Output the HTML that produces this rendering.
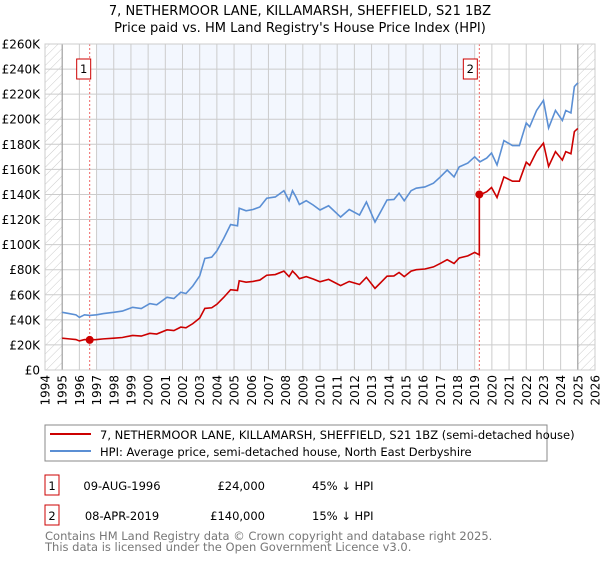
<!DOCTYPE html>
<html><head><meta charset="utf-8"><style>
body{margin:0;background:#fff;font-family:"DejaVu Sans","Liberation Sans",sans-serif;}
svg text{font-family:"DejaVu Sans","Liberation Sans",sans-serif;}
</style></head><body>
<svg id="c" width="600" height="560" xmlns="http://www.w3.org/2000/svg">
<defs><pattern id="hatch" width="6" height="6" patternUnits="userSpaceOnUse" patternTransform="rotate(45)"><line x1="0" y1="0" x2="0" y2="6" stroke="#ccc" stroke-width="1"/></pattern></defs>
<text x="300" y="15" text-anchor="middle" font-size="13">7, NETHERMOOR LANE, KILLAMARSH, SHEFFIELD, S21 1BZ</text>
<text x="300" y="32" text-anchor="middle" font-size="13">Price paid vs. HM Land Registry's House Price Index (HPI)</text>
<g id="plot"></g>
<rect x="45" y="425" width="502" height="36" fill="#fff" stroke="#888"/>
<line x1="50" y1="434" x2="91" y2="434" stroke="#cc0000" stroke-width="2"/>
<text x="100" y="439" font-size="11.5">7, NETHERMOOR LANE, KILLAMARSH, SHEFFIELD, S21 1BZ (semi-detached house)</text>
<line x1="50" y1="451" x2="91" y2="451" stroke="#5b8fd4" stroke-width="2"/>
<text x="100" y="456" font-size="11.5">HPI: Average price, semi-detached house, North East Derbyshire</text>
<g>
<rect x="45" y="475" width="14" height="20" fill="#fff" stroke="#cc0000"/>
<text x="52" y="490" text-anchor="middle" font-size="11.5">1</text>
<text x="122" y="490" text-anchor="middle" font-size="11.5">09-AUG-1996</text>
<text x="265" y="490" text-anchor="end" font-size="11.5">£24,000</text>
<text x="312" y="490" font-size="11.5">45% ↓ HPI</text></g>
<g>
<rect x="45" y="505" width="14" height="20" fill="#fff" stroke="#cc0000"/>
<text x="52" y="520" text-anchor="middle" font-size="11.5">2</text>
<text x="122" y="520" text-anchor="middle" font-size="11.5">08-APR-2019</text>
<text x="265" y="520" text-anchor="end" font-size="11.5">£140,000</text>
<text x="312" y="520" font-size="11.5">15% ↓ HPI</text></g>
<text x="45" y="540" font-size="11.5" fill="#777">Contains HM Land Registry data © Crown copyright and database right 2025.</text>
<text x="45" y="551" font-size="11.5" fill="#777">This data is licensed under the Open Government Licence v3.0.</text>
</svg>
<script>
const hpiYears=[1995.0,1995.4,1995.8,1996.0,1996.3,1996.6,1997.0,1997.4,1998.0,1998.5,1999.1,1999.6,2000.1,2000.5,2001.1,2001.5,2001.9,2002.2,2002.6,2003.0,2003.3,2003.7,2004.0,2004.4,2004.8,2005.2,2005.3,2005.7,2006.1,2006.5,2006.9,2007.4,2007.9,2008.2,2008.4,2008.6,2008.8,2009.2,2009.6,2010.0,2010.5,2011.2,2011.7,2012.3,2012.7,2013.2,2013.6,2013.9,2014.3,2014.6,2014.9,2015.3,2015.6,2016.1,2016.6,2017.0,2017.4,2017.8,2018.1,2018.6,2019.0,2019.3,2019.7,2019.98,2020.3,2020.7,2021.2,2021.6,2022.0,2022.2,2022.6,2023.0,2023.3,2023.7,2024.1,2024.3,2024.6,2024.8,2025.0];
const hpiValues=[46,45,44,42,44,43.5,44,45,46,47,50,49,53,52,58,57,62,61,67,75,89,90,95,105,116,115,129,127,128,130,137,138,143,135,143,138,132,135,131.6,127.6,131,122,128,123.6,134,118,128,135.6,136,141,135,143,145,146,149,154,159.5,154,162,165,170,166,169,173,163.5,183,179,179,197,194,207,215,193,207,199,207,205,226,229];
const saleDates=[1996.6,2019.27];
const salePrices=[24,140];
const yTicks=[0,20,40,60,80,100,120,140,160,180,200,220,240,260];
const xTicks=[1994,1995,1996,1997,1998,1999,2000,2001,2002,2003,2004,2005,2006,2007,2008,2009,2010,2011,2012,2013,2014,2015,2016,2017,2018,2019,2020,2021,2022,2023,2024,2025,2026];
const X0=45,X1=595,Y0=370,Y1=44;
const xs=y=>X0+(y-1994)/32*(X1-X0);
const ys=v=>Y0-v/260*(Y0-Y1);
const NS='http://www.w3.org/2000/svg';
const g=document.getElementById('plot');
function mk(t,a,p){const e=document.createElementNS(NS,t);for(const k in a)e.setAttribute(k,a[k]);(p||g).appendChild(e);return e;}
function hpiAt(t){for(let i=1;i<hpiYears.length;i++){if(hpiYears[i]>=t){const f=(t-hpiYears[i-1])/(hpiYears[i]-hpiYears[i-1]);return hpiValues[i-1]+f*(hpiValues[i]-hpiValues[i-1]);}}return hpiValues[hpiValues.length-1];}
let e;
e=mk('rect',{x:X0,y:Y1,width:X1-X0,height:Y0-Y1,fill:'#fff'});
e=mk('rect',{x:xs(1997),y:Y1,width:xs(2019)-xs(1997),height:Y0-Y1,fill:'#f3f7fe'});


e=mk('rect',{x:X0,y:Y1,width:xs(1995)-X0,height:Y0-Y1,fill:'url(#hatch)'});


e=mk('rect',{x:xs(2025),y:Y1,width:X1-xs(2025),height:Y0-Y1,fill:'url(#hatch)'});


xTicks.forEach(t=>{e=mk('line',{x1:xs(t),x2:xs(t),y1:Y1,y2:Y0,stroke:'#ccc'});


const wrap=mk('g',{});
wrap.setAttribute('transform','translate('+(xs(t)+4.5)+',375) rotate(-90)');
e=mk('text',{x:0,y:0,'font-size':12,'text-anchor':'end'},wrap);e.textContent=t;

});
yTicks.forEach(t=>{e=mk('line',{x1:X0,x2:X1,y1:ys(t),y2:ys(t),stroke:'#ccc'});


e=mk('text',{x:40,y:ys(t)+4.5,'font-size':12,'text-anchor':'end'});e.textContent='£'+(t?t+'K':'0');

});
e=mk('line',{x1:xs(1995),x2:xs(1995),y1:Y1,y2:Y0,stroke:'#999'});
e=mk('line',{x1:xs(2025),x2:xs(2025),y1:Y1,y2:Y0,stroke:'#999'});
saleDates.forEach((d,i)=>{e=mk('line',{x1:xs(d),x2:xs(d),y1:Y1,y2:Y0,stroke:'#e66','stroke-dasharray':'2,2'});


const bx=xs(d)-(i?9:6);
e=mk('rect',{x:bx-7,y:59,width:14,height:20,fill:'#fff',stroke:'#cc0000'});


e=mk('text',{x:bx,y:73,'font-size':11.5,'text-anchor':'middle'});e.textContent=i+1;});
let pts=hpiYears.map((y,i)=>xs(y)+','+ys(hpiValues[i])).join(' ');
e=mk('polyline',{points:pts,fill:'none',stroke:'#5b8fd4','stroke-width':1.6});


const r0=salePrices[0]/hpiAt(saleDates[0]),r1=salePrices[1]/hpiAt(saleDates[1]);
let rp=[];
hpiYears.forEach((y,i)=>{if(y<saleDates[1])rp.push([y,hpiValues[i]*r0]);});
rp.push([saleDates[1],hpiAt(saleDates[1])*r0]);rp.push([saleDates[1],salePrices[1]]);
hpiYears.forEach((y,i)=>{if(y>saleDates[1])rp.push([y,hpiValues[i]*r1]);});
e=mk('polyline',{points:rp.map(p=>xs(p[0])+','+ys(p[1])).join(' '),fill:'none',stroke:'#cc0000','stroke-width':1.6});


saleDates.forEach((d,i)=>{e=mk('circle',{cx:xs(d),cy:ys(salePrices[i]),r:4,fill:'#cc0000'});

});
e=mk('rect',{x:X0,y:Y1,width:X1-X0,height:Y0-Y1,fill:'none',stroke:'#ccc'});
</script>
</body></html>
